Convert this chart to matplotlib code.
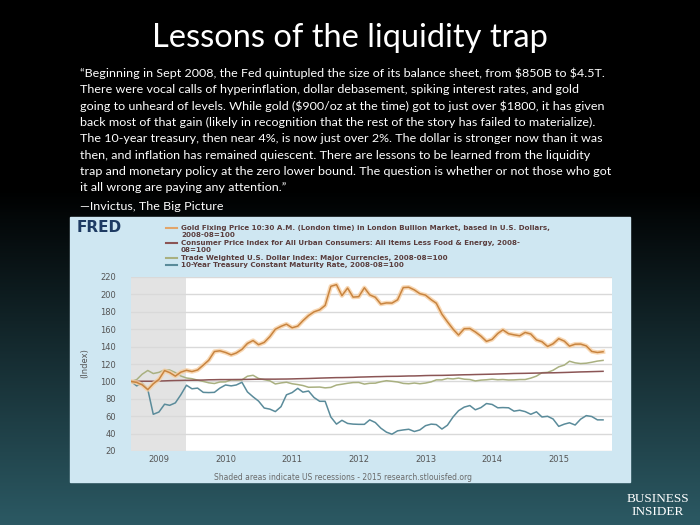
import numpy as np
import pandas as pd
import matplotlib
matplotlib.use("Agg")
import matplotlib.pyplot as plt
import matplotlib.dates as mdates
from matplotlib import font_manager
from matplotlib.lines import Line2D
from matplotlib.patches import Rectangle

# monthly data, 2008-08 .. 2015-09
start = "2008-08-01"
gold_usd = [839, 829, 806, 760, 816,
            858, 943, 924, 890, 928, 946, 934, 949, 996, 1043, 1127, 1134,
            1118, 1095, 1113, 1148, 1205, 1233, 1193, 1215, 1271, 1342, 1370, 1391,
            1356, 1372, 1424, 1474, 1510, 1529, 1572, 1756, 1772, 1666, 1739, 1652,
            1656, 1742, 1674, 1650, 1585, 1596, 1594, 1626, 1744, 1747, 1721, 1685,
            1671, 1627, 1593, 1487, 1414, 1343, 1286, 1347, 1349, 1316, 1275, 1225,
            1244, 1301, 1336, 1299, 1288, 1279, 1311, 1296, 1239, 1222, 1176, 1202,
            1251, 1227, 1179, 1198, 1199, 1181, 1128, 1118, 1125]
core_cpi = [216.5, 216.8, 216.9, 216.9, 216.9,
            217.3, 217.8, 218.3, 218.7, 218.9, 219.3, 219.4, 219.6, 219.9, 220.5, 220.7, 221.0,
            221.0, 221.1, 221.2, 221.3, 221.5, 221.8, 222.0, 222.1, 222.1, 222.1, 222.3, 222.4,
            222.7, 223.1, 223.4, 223.7, 224.2, 224.7, 225.1, 225.5, 225.9, 226.0, 226.3, 226.6,
            227.2, 227.5, 227.9, 228.3, 228.5, 228.9, 229.1, 229.2, 229.6, 230.0, 230.1, 230.5,
            231.0, 231.3, 231.4, 231.5, 231.8, 232.2, 232.6, 233.0, 233.2, 233.6, 233.9, 234.2,
            234.5, 234.9, 235.3, 235.7, 236.2, 236.4, 236.6, 236.9, 237.2, 237.5, 237.8, 237.9,
            238.3, 238.7, 239.1, 239.6, 240.1, 240.4, 240.8, 241.2, 241.6]
dollar = [74.1, 75.6, 80.2, 83.4, 80.8,
          81.8, 83.9, 83.8, 81.6, 78.7, 77.0, 76.4, 75.2, 74.1, 72.9, 72.3, 73.6,
          73.7, 75.4, 75.3, 75.4, 78.5, 79.3, 76.6, 75.6, 74.6, 71.9, 72.8, 73.4,
          72.1, 71.4, 70.6, 69.1, 69.2, 69.3, 68.6, 69.0, 71.0, 71.7, 72.5, 73.1,
          73.2, 71.8, 72.5, 72.6, 73.8, 74.7, 74.2, 73.6, 72.4, 72.1, 72.7, 72.1,
          72.7, 73.7, 75.4, 75.4, 76.6, 76.2, 76.9, 76.0, 75.7, 74.5, 75.2, 75.5,
          76.0, 75.5, 75.7, 75.3, 75.4, 75.7, 75.7, 76.9, 78.6, 81.5, 81.8, 83.6,
          86.5, 88.0, 91.3, 89.9, 89.3, 89.6, 90.4, 91.4, 92.0]
treasury_10y = [3.89, 3.69, 3.81, 3.53, 2.42,
                2.52, 2.87, 2.82, 2.93, 3.29, 3.72, 3.56, 3.59, 3.40, 3.39, 3.40, 3.59,
                3.73, 3.69, 3.73, 3.85, 3.42, 3.20, 3.01, 2.70, 2.65, 2.54, 2.76, 3.29,
                3.39, 3.58, 3.41, 3.46, 3.17, 3.00, 3.00, 2.30, 1.98, 2.15, 2.01, 1.98,
                1.97, 1.97, 2.17, 2.05, 1.80, 1.62, 1.53, 1.68, 1.72, 1.75, 1.65, 1.72,
                1.91, 1.98, 1.96, 1.76, 1.93, 2.30, 2.58, 2.74, 2.81, 2.62, 2.72, 2.90,
                2.86, 2.71, 2.72, 2.71, 2.56, 2.60, 2.54, 2.42, 2.53, 2.30, 2.33, 2.21,
                1.88, 1.98, 2.04, 1.94, 2.20, 2.36, 2.32, 2.17, 2.17]
recession = ("2008-08-01", "2009-06-01")
yticks = [20, 40, 60, 80, 100, 120, 140, 160, 180, 200, 220]

legend_rows = [
    ("Gold Fixing Price 10:30 A.M. (London time) in London Bullion Market, based in U.S. Dollars,", "2008-08=100"),
    ("Consumer Price Index for All Urban Consumers: All Items Less Food & Energy, 2008-", "08=100"),
    ("Trade Weighted U.S. Dollar Index: Major Currencies, 2008-08=100", None),
    ("10-Year Treasury Constant Maturity Rate, 2008-08=100", None),
]
quote = [
    "\u201cBeginning in Sept 2008, the Fed quintupled the size of its balance sheet, from \\$850B to \\$4.5T.",
    "There were vocal calls of hyperinflation, dollar debasement, spiking interest rates, and gold",
    "going to unheard of levels. While gold (\\$900/oz at the time) got to just over \\$1800, it has given",
    "back most of that gain (likely in recognition that the rest of the story has failed to materialize).",
    "The 10-year treasury, then near 4%, is now just over 2%. The dollar is stronger now than it was",
    "then, and inflation has remained quiescent. There are lessons to be learned from the liquidity",
    "trap and monetary policy at the zero lower bound. The question is whether or not those who got",
    "it all wrong are paying any attention.\u201d",
]
source = "\u2014Invictus, The Big Picture"


def pick(names):
    for n in names:
        try:
            font_manager.findfont(n, fallback_to_default=False)
            return n
        except ValueError:
            pass
    return "DejaVu Sans"


body_font = pick(["Liberation Sans Narrow", "Lato", "Open Sans"])
title_font = pick(["Lato", "Open Sans"])
serif_font = pick(["Liberation Serif", "DejaVu Serif"])

W, H = 700, 525
fx = lambda px: px / W
fy = lambda py: 1 - py / H

fig = plt.figure(figsize=(7, 5.25), dpi=100)

# slide background
bg = fig.add_axes([0, 0, 1, 1])
bg.axis("off")
rows = np.linspace(0, 1, H)
t = np.clip((rows - 0.36) / 0.64, 0, 1)[:, None]
teal = np.array([0.17, 0.35, 0.39])
img = (t * teal)[:, None, :] * np.ones((1, 10, 1))
bg.imshow(img, aspect="auto", extent=[0, 1, 0, 1])
bg.set_xlim(0, 1)
bg.set_ylim(0, 1)
bg.add_patch(Rectangle((fx(70), fy(482)), 560 / W, (482 - 217) / H,
                       color="#cfe7f2", zorder=2))

# title and quote
title = fig.text(0.5, fy(38), "Lessons of the liquidity trap", color="white",
                 ha="center", va="center", fontsize=20, family=title_font)
lines = []
for i, s in enumerate(quote):
    lines.append(fig.text(fx(80), fy(73 + i * 16.4), s, color="white",
                          va="center", fontsize=10, family=body_font))
src = fig.text(fx(80), fy(206), source, color="white", va="center",
               fontsize=10, family=body_font)

# legend block
fig.text(fx(77), fy(228), "FRED", color="#1e3b63", fontsize=11,
         weight="heavy", va="center", family="DejaVu Sans")
leg_colors = ["#e2a56a", "#8b5555", "#a9b080", "#5a8b9a"]
y = 228
for (l1, l2), c in zip(legend_rows, leg_colors):
    fig.lines.append(Line2D([fx(166), fx(177)], [fy(y), fy(y)], color=c, lw=1.5,
                            transform=fig.transFigure))
    fig.text(fx(181), fy(y), l1, color="#5a3d3d", fontsize=5.1,
             weight="bold", va="center", family="DejaVu Sans")
    y += 7.4
    if l2:
        fig.text(fx(181), fy(y), l2, color="#5a3d3d", fontsize=5.1,
                 weight="bold", va="center", family="DejaVu Sans")
        y += 7.4

fig.text(fx(85), fy(363), "(Index)", rotation=90, color="#555555", fontsize=6,
         ha="center", va="center")
fig.text(fx(343), fy(478), "Shaded areas indicate US recessions - 2015 research.stlouisfed.org",
         color="#6a6a6a", fontsize=5.5, ha="center", va="center")
fig.text(fx(658), fy(499), "BUSINESS", color="white", fontsize=9.5, ha="center",
         va="center", family=serif_font)
fig.text(fx(658), fy(512), "INSIDER", color="white", fontsize=9.5, ha="center",
         va="center", family=serif_font)

# fit text widths to the reference
fig.canvas.draw()
r = fig.canvas.get_renderer()
k = 398 / title.get_window_extent(r).width
title.set_fontsize(20 * k)
k = 522 / lines[0].get_window_extent(r).width
for tx in lines + [src]:
    tx.set_fontsize(10 * k)

# chart
dates = pd.date_range(start, periods=len(gold_usd), freq="MS")
gold = np.array(gold_usd) / gold_usd[0] * 100
cpi = np.array(core_cpi) / core_cpi[0] * 100
usd = np.array(dollar) / dollar[0] * 100
tsy = np.array(treasury_10y) / treasury_10y[0] * 100

ax = fig.add_axes([fx(131), fy(451), 481 / W, 174 / H])
ax.set_facecolor("white")
ax.axvspan(pd.Timestamp(recession[0]), pd.Timestamp(recession[1]), color="#e3e3e3",
           lw=0, zorder=0)
ax.plot(dates, tsy, color="#5a8b9a", lw=1.1, zorder=3)
ax.plot(dates, usd, color="#a9b080", lw=1.1, zorder=3)
ax.plot(dates, cpi, color="#8b5555", lw=1.1, zorder=4)
ax.plot(dates, gold, color="#f7cfa3", lw=3.2, alpha=0.8, zorder=4)
ax.plot(dates, gold, color="#c8843f", lw=1.1, zorder=5)

ax.set_ylim(20, 220)
ax.set_yticks(yticks)
ax.set_xlim(dates[0], pd.Timestamp("2015-10-20"))
ax.xaxis.set_major_locator(mdates.YearLocator())
ax.xaxis.set_major_formatter(mdates.DateFormatter("%Y"))
ax.yaxis.grid(True, color="#d9d9d9", lw=1, zorder=1)
ax.set_axisbelow(True)
for s in ax.spines.values():
    s.set_visible(False)
ax.tick_params(axis="y", length=0, labelsize=6, labelcolor="#555555", pad=11)
ax.tick_params(axis="x", length=0, labelsize=6, labelcolor="#555555", pad=3)

fig.savefig("out.png", dpi=100)
